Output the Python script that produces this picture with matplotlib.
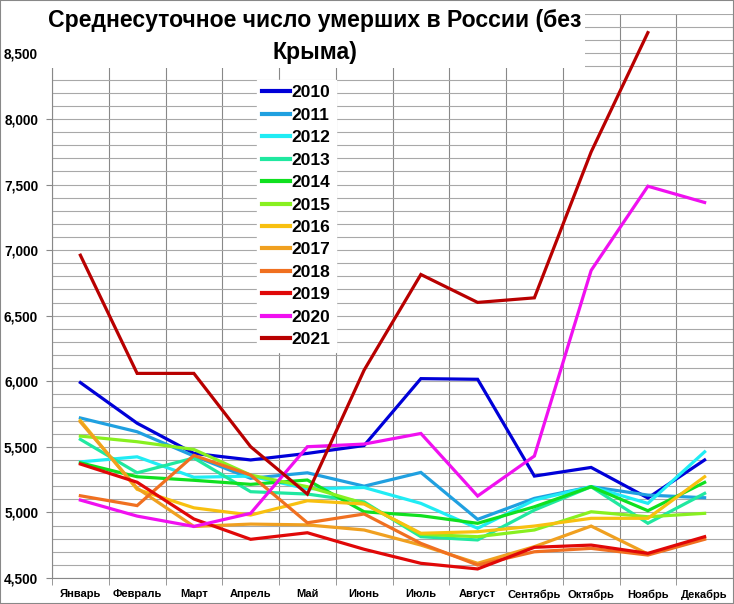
import matplotlib
matplotlib.use('Agg')
from matplotlib import pyplot as plt
from matplotlib import font_manager
from matplotlib.patches import Rectangle
from matplotlib.ticker import MultipleLocator, FixedLocator, FuncFormatter
import numpy as np

names = {f.name for f in font_manager.fontManager.ttflist}
narrow = 'Liberation Sans Narrow' if 'Liberation Sans Narrow' in names else 'Liberation Sans'
plt.rcParams['font.family'] = ['Liberation Sans', 'DejaVu Sans']

months = ['Январь', 'Февраль', 'Март', 'Апрель', 'Май', 'Июнь',
          'Июль', 'Август', 'Сентябрь', 'Октябрь', 'Ноябрь', 'Декабрь']
years = ['2010', '2011', '2012', '2013', '2014', '2015',
         '2016', '2017', '2018', '2019', '2020', '2021']

d2010 = [5990, 5680, 5450, 5400, 5450, 5510, 6020, 6015, 5277, 5343, 5110, 5400]
d2011 = [5720, 5615, 5430, 5260, 5302, 5200, 5305, 4947, 5107, 5196, 5132, 5112]
d2012 = [5385, 5424, 5268, 5277, 5180, 5190, 5069, 4879, 5094, 5196, 5069, 5462]
d2013 = [5557, 5302, 5415, 5158, 5140, 5080, 4815, 4790, 5018, 5196, 4917, 5145]
d2014 = [5378, 5272, 5245, 5214, 5247, 5005, 4975, 4917, 5043, 5196, 5013, 5229]
d2015 = [5582, 5539, 5480, 5285, 5196, 5069, 4833, 4815, 4866, 5005, 4967, 4993]
d2016 = [5700, 5176, 5035, 4980, 5089, 5064, 4841, 4853, 4896, 4955, 4955, 5272]
d2017 = [5690, 5185, 4893, 4911, 4905, 4866, 4751, 4612, 4739, 4896, 4683, 4802]
d2018 = [5127, 5052, 5435, 5285, 4921, 4988, 4764, 4599, 4700, 4726, 4675, 4795]
d2019 = [5369, 5230, 4950, 4795, 4845, 4719, 4612, 4569, 4734, 4751, 4688, 4815]
d2020 = [5094, 4972, 4893, 4993, 5501, 5521, 5602, 5125, 5430, 6845, 7487, 7363]
d2021 = [6961, 6060, 6060, 5501, 5140, 6085, 6814, 6601, 6636, 7748, 8658, None]

series = [d2010, d2011, d2012, d2013, d2014, d2015,
          d2016, d2017, d2018, d2019, d2020, d2021]
colors = ['#0000d8', '#20a0e0', '#20ecf4', '#20e8a0', '#10e020', '#88f020',
          '#f8c010', '#f0a020', '#f07020', '#e00808', '#f010f0', '#b80000']

fig = plt.figure(figsize=(7.34, 6.04), dpi=100)
ax = fig.add_axes([52 / 734, 1 - 578 / 604, 681 / 734, 564 / 604])

x = np.arange(12)
for yr, vals, c in zip(years, series, colors):
    v = np.array([np.nan if a is None else a for a in vals], dtype=float)
    ax.plot(x, v, color=c, lw=2.3, label=yr, solid_joinstyle='miter')

ax.set_xlim(-0.5, 11.5)
ax.set_ylim(4500, 8800)
ax.yaxis.set_major_locator(FixedLocator([4500, 5000, 5500, 6000, 6500, 7000, 7500, 8000, 8500]))
ax.yaxis.set_minor_locator(MultipleLocator(100))
ax.yaxis.set_major_formatter(FuncFormatter(lambda v, p: f'{int(v):,}'))
ax.grid(True, which='both', axis='y', color='#a8a8a8', lw=0.8)
ax.set_xticks(x)
ax.set_xticklabels(months)
ax.set_xticks(np.arange(-0.5, 12, 1), minor=True)
ax.grid(True, which='minor', axis='x', color='#888888', lw=0.8)
ax.set_axisbelow(True)
for s in ['top', 'right']:
    ax.spines[s].set_visible(False)
ax.spines['left'].set_color('#888888')
ax.spines['bottom'].set_color('#888888')
ax.tick_params(axis='x', which='major', length=0, pad=8)
ax.tick_params(axis='x', which='minor', length=5, color='#888888')
ax.tick_params(axis='y', which='major', length=4, color='#888888', pad=6)
ax.tick_params(axis='y', which='minor', length=0)
for lab in ax.get_xticklabels():
    lab.set_fontsize(8)
    lab.set_fontweight('bold')
    lab.set_fontfamily(narrow)
for lab in ax.get_yticklabels():
    lab.set_fontsize(9.8)
    lab.set_fontweight('bold')
    lab.set_fontfamily(narrow)

leg = ax.legend(loc='upper left', bbox_to_anchor=(257 / 734, 1 - 80 / 604),
                bbox_transform=fig.transFigure, frameon=True, fancybox=False,
                handlelength=1.6, handletextpad=0.1, labelspacing=0.42,
                borderpad=0.3, borderaxespad=0,
                prop={'family': narrow, 'weight': 'bold', 'size': 12.5})
leg.get_frame().set_facecolor('white')
leg.get_frame().set_edgecolor('white')
leg.get_frame().set_alpha(1)
for h in leg.get_lines():
    h.set_linewidth(3)

# white title box covers the top of the grid
fig.patches.append(Rectangle((42 / 734, 1 - 68 / 604), 543 / 734, 68 / 604,
                             transform=fig.transFigure, facecolor='white',
                             edgecolor='none', zorder=5))
fig.text(315 / 734, 1 - 21 / 604, 'Среднесуточное число умерших в России (без',
         ha='center', va='center', fontsize=16.6, fontweight='bold', family=narrow, zorder=6)
fig.text(315 / 734, 1 - 52 / 604, 'Крыма)',
         ha='center', va='center', fontsize=16.6, fontweight='bold', family=narrow, zorder=6)

fig.patches.append(Rectangle((0, 0), 1, 1, transform=fig.transFigure, fill=False,
                             edgecolor='#888888', lw=1.5, zorder=7))

fig.savefig('out.png', dpi=100)
